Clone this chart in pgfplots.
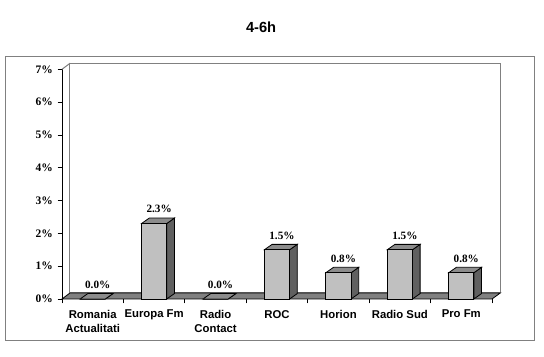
\documentclass[border=0pt]{standalone}
\usepackage{pgfplots}
\usepackage{pgfplotstable}
\pgfplotsset{compat=1.18}
\usepackage{fontspec}
\setmainfont{Liberation Sans}
\newfontfamily\tnr{Liberation Serif}
\definecolor{frontgray}{HTML}{C0C0C0}
\definecolor{sidegray}{HTML}{606060}
\definecolor{topgray}{HTML}{8C8C8C}
\definecolor{floorgray}{HTML}{808080}
\definecolor{wallgray}{HTML}{808080}

\pgfplotstableread{
x y
0 0.0
1 2.3
2 0.0
3 1.5
4 0.8
5 1.5
6 0.8
}\datatable

\def\bw{0.205}
\def\bdx{0.125}
\def\bdy{0.165}

\begin{document}
\begin{tikzpicture}
\begin{axis}[
  at={(46.5pt,43.5pt)}, anchor=south west,
  scale only axis, width=322.5pt, height=172.3pt,
  xmin=-0.5, xmax=6.5, ymin=0, ymax=7,
  clip=false,
  axis lines*=left,
  axis line style={black, line width=0.75pt},
  /pgf/number format/assume math mode=true,
  ytick={0,1,2,3,4,5,6,7},
  yticklabels={0\%,1\%,2\%,3\%,4\%,5\%,6\%,7\%},
  yticklabel style={font=\tnr\bfseries\fontsize{8.6}{9}\selectfont},
  xtick={-0.5,0.5,1.5,2.5,3.5,4.5,5.5,6.5},
  xticklabels={},
  extra x ticks={0,1,2,3,4,5,6},
  extra x tick labels={{Romania\\Actualitati},{Europa Fm},{Radio\\Contact},ROC,Horion,{Radio Sud},{Pro Fm}},
  extra x tick style={tick style={draw=none}},
  xticklabel style={align=center, yshift=-1.5pt, font=\bfseries\fontsize{8.5}{10.3}\selectfont},
  tick align=outside, major tick length=3.3pt,
  tick style={black, line width=0.6pt},
  title={4-6h},
  title style={font=\bfseries\fontsize{11}{13}\selectfont, at={(axis description cs:0.463,1.15)}, anchor=center, yshift=0pt},
]
% back wall
\addplot[fill=white, draw=wallgray, line width=0.75pt] coordinates {(-0.37,0.183) (6.635,0.183) (6.635,7.183) (-0.37,7.183)} -- cycle;
% left wall top edge
\addplot[draw=wallgray, line width=0.75pt] coordinates {(-0.5,7) (-0.37,7.183)};
% floor
\addplot[fill=floorgray, draw=black, line width=0.6pt] coordinates {(-0.5,0) (6.5,0) (6.635,0.183) (-0.37,0.183)} -- cycle;
% side and top faces of the bars
\pgfplotsinvokeforeach{0,1,2,3,4,5,6}{%
  \pgfplotstablegetelem{#1}{y}\of\datatable
  \pgfmathsetmacro\v{\pgfplotsretval}%
  \pgfmathsetmacro\xl{#1-\bw}%
  \pgfmathsetmacro\xr{#1+\bw}%
  \pgfmathsetmacro\xlb{#1-\bw+\bdx}%
  \pgfmathsetmacro\xrb{#1+\bw+\bdx}%
  \pgfmathsetmacro\vb{\v+\bdy}%
  \edef\temp{%
    \noexpand\addplot[fill=sidegray, draw=black, line width=0.6pt] coordinates {(\xr,0) (\xrb,\bdy) (\xrb,\vb) (\xr,\v)} -- cycle;
    \noexpand\addplot[fill=topgray, draw=black, line width=0.6pt] coordinates {(\xl,\v) (\xr,\v) (\xrb,\vb) (\xlb,\vb)} -- cycle;
  }\temp
}
% front faces
\addplot[ybar, bar width=0.41, fill=frontgray, draw=black, line width=0.6pt,
  nodes near coords={\pgfmathprintnumber[fixed,fixed zerofill,precision=1]{\pgfplotspointmeta}\%},
  nodes near coords style={font=\tnr\bfseries\fontsize{8.4}{9}\selectfont, anchor=south, inner sep=0pt, xshift=3.75pt, yshift=7.5pt, text=black}]
  table[x=x,y=y]{\datatable};
\end{axis}
\draw[draw=wallgray, line width=0.75pt] (3.75pt,12pt) rectangle (400.5pt,225pt);
\pgfresetboundingbox
\path[use as bounding box] (0,0) rectangle (408pt,267.75pt);
\end{tikzpicture}
\end{document}
